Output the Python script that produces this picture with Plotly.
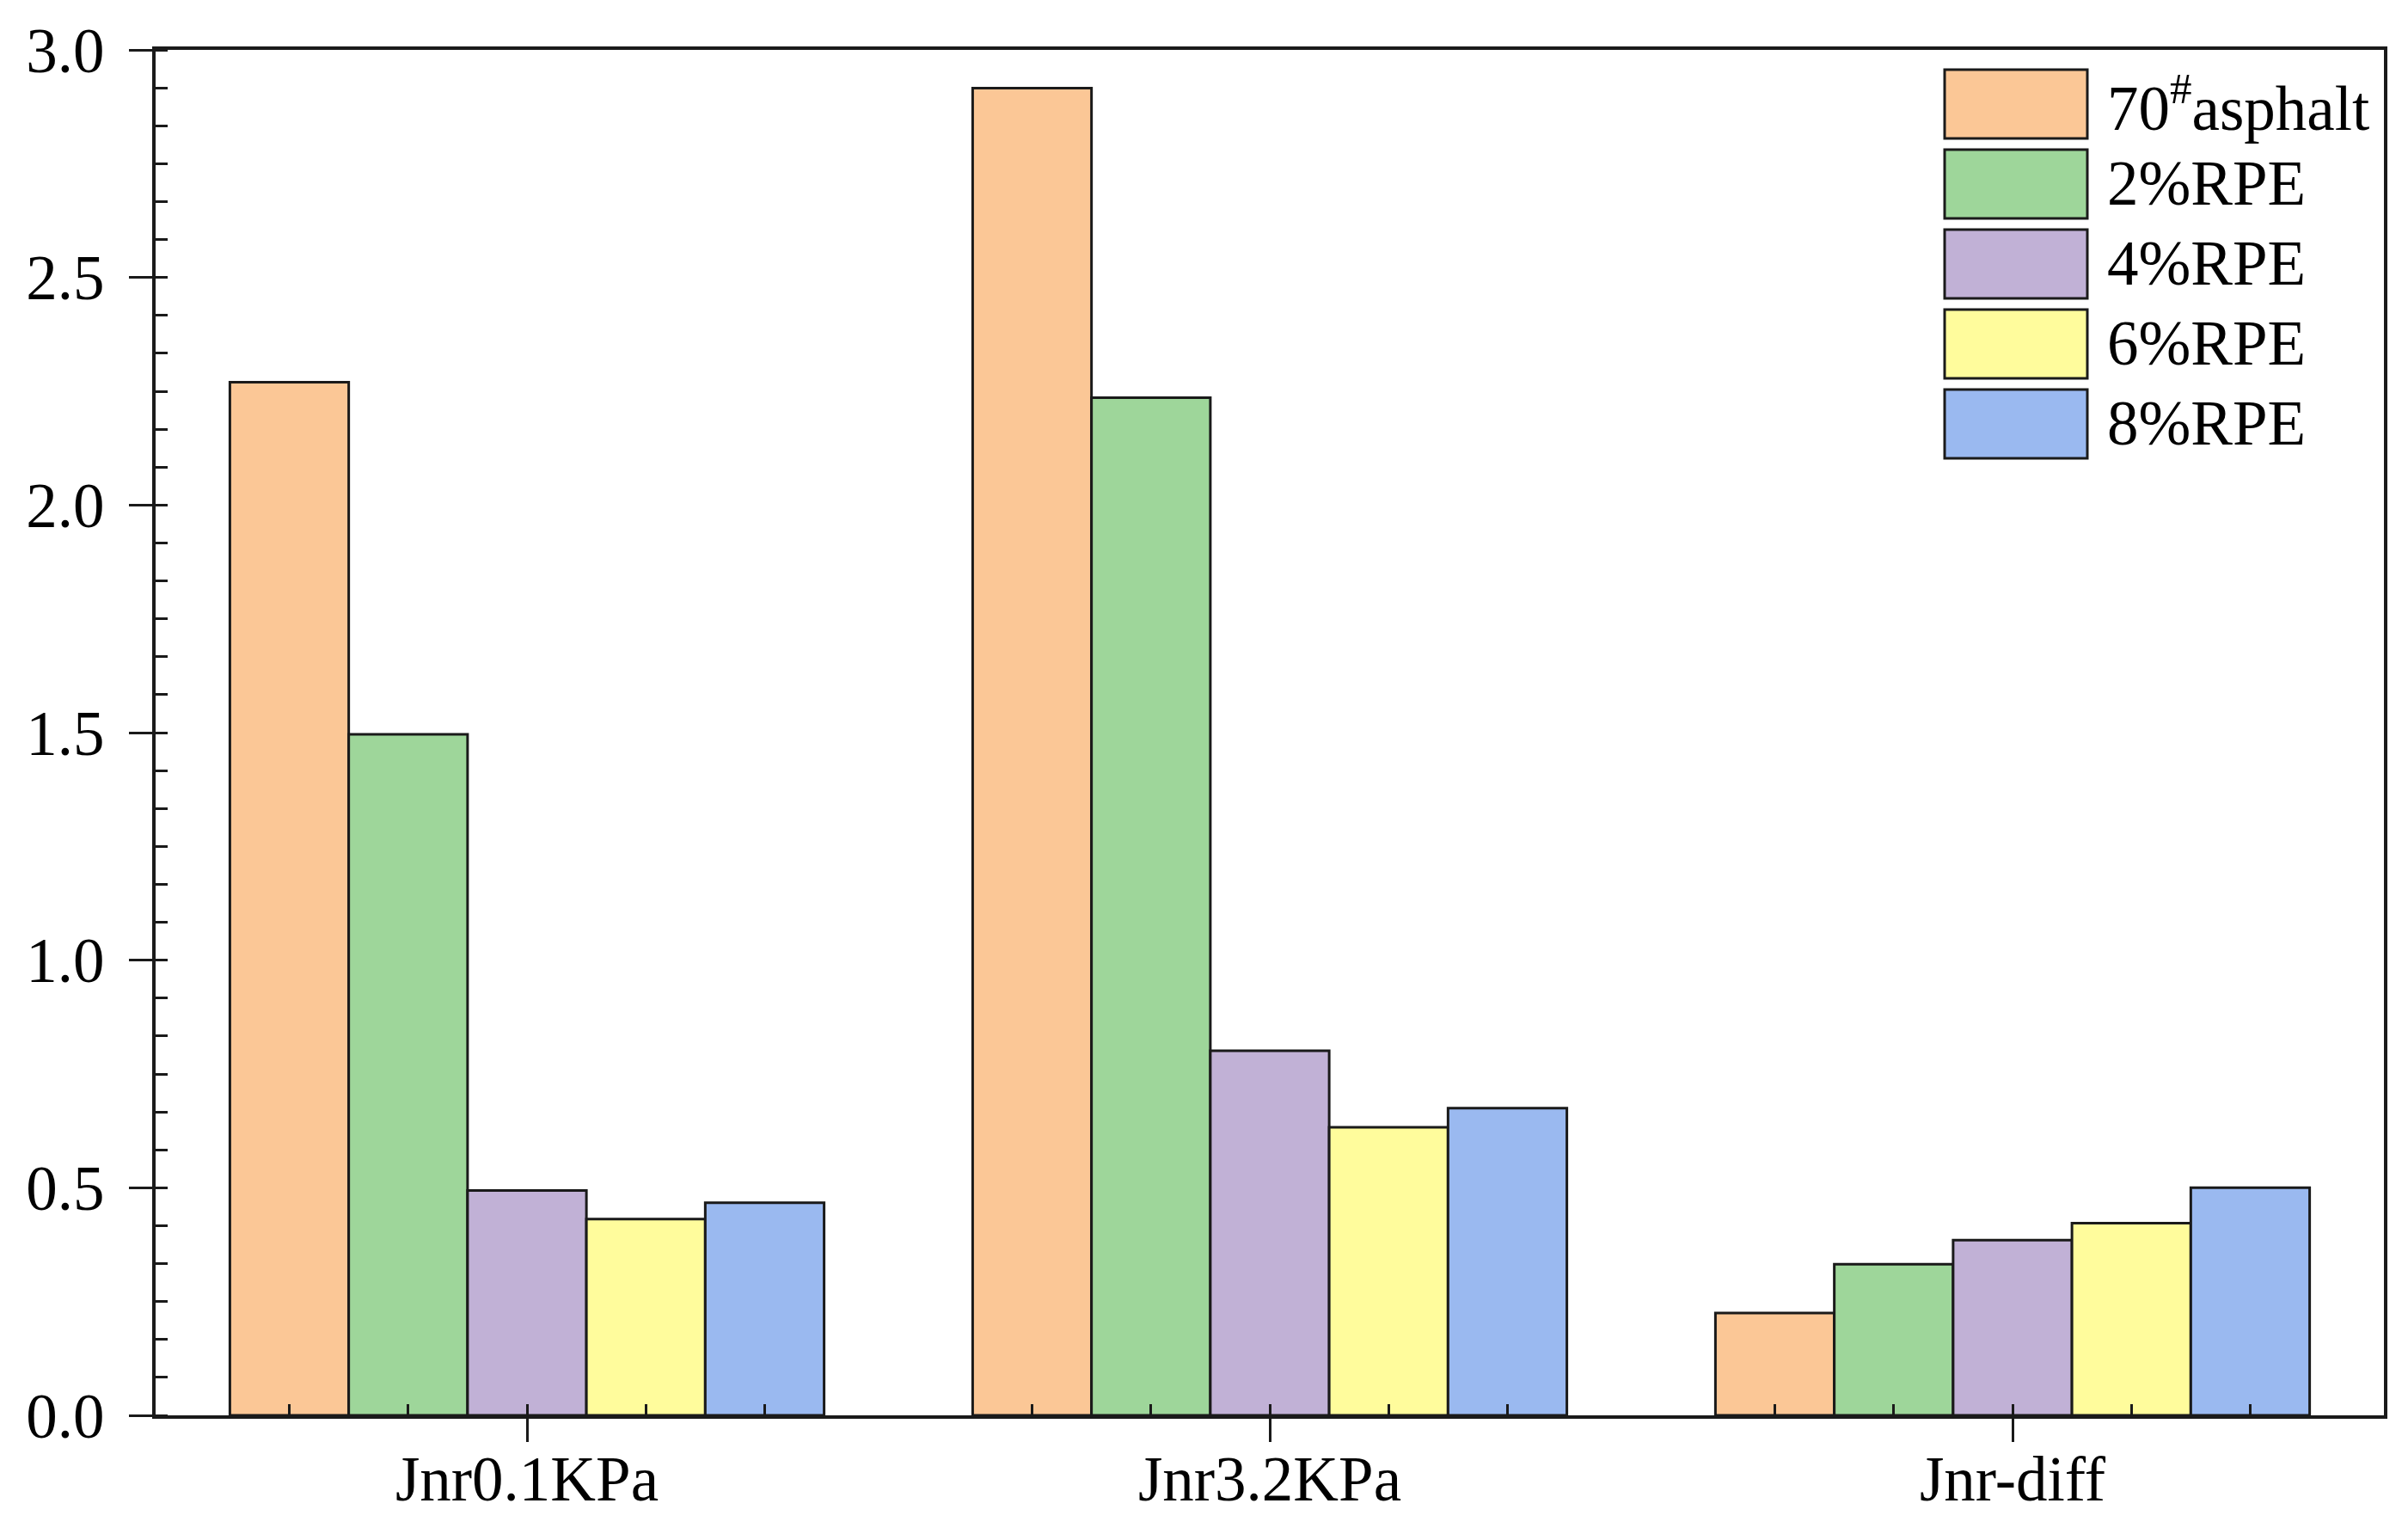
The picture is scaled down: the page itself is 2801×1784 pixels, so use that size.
import plotly.graph_objects as go

# ---------------- data ----------------
categories = ["Jnr0.1KPa", "Jnr3.2KPa", "Jnr-diff"]
series_names = ["70<sup>#</sup>asphalt", "2%RPE", "4%RPE", "6%RPE", "8%RPE"]
asphalt70 = [2.27, 2.916, 0.225]
rpe2 = [1.496, 2.236, 0.332]
rpe4 = [0.494, 0.801, 0.385]
rpe6 = [0.431, 0.633, 0.422]
rpe8 = [0.467, 0.675, 0.500]
series_values = [asphalt70, rpe2, rpe4, rpe6, rpe8]
colors = ["#FBC796", "#9ED69A", "#C1B1D6", "#FFFC9C", "#9AB9F0"]
y_ticks = [0.0, 0.5, 1.0, 1.5, 2.0, 2.5, 3.0]

# ---------------- layout constants ----------------
W, H = 2801, 1784
ML, MR, MT, MB = 173, 36, 50, 146
FONT = "Times New Roman, Liberation Serif, serif"
FS = 73
LW_AX = 4
LW_BAR = 3
BARGAP = 0.2
INK = "#1a1a1a"

xs = list(range(len(categories)))
nser = len(series_values)
bw = (1 - BARGAP) / nser

fig = go.Figure()
for name, vals, col in zip(series_names, series_values, colors):
    fig.add_trace(go.Bar(
        x=xs, y=vals, name=name,
        marker=dict(color=col, line=dict(color=INK, width=LW_BAR)),
        showlegend=False,
    ))

# minor x ticks at the bar centres
minor_x = [c + (k - (nser - 1) / 2) * bw for c in xs for k in range(nser)]

axis_common = dict(
    showline=True, linecolor=INK, linewidth=LW_AX, mirror=True,
    showgrid=False, zeroline=False,
    ticks="outside", ticklen=27, tickwidth=LW_AX - 1, tickcolor=INK,
    tickfont=dict(family=FONT, size=FS, color="black"),
)

fig.update_xaxes(
    **axis_common,
    range=[-0.5, len(categories) - 0.5],
    tickmode="array", tickvals=xs, ticktext=categories,
    ticklabelstandoff=-20,
    minor=dict(tickmode="array", tickvals=minor_x, ticks="inside",
               ticklen=13, tickwidth=LW_AX - 1, tickcolor=INK),
)
fig.update_yaxes(
    **axis_common,
    range=[0, 3.0],
    tickmode="array", tickvals=y_ticks, ticktext=[f"{v:.1f}" for v in y_ticks],
    ticklabelstandoff=14,
    minor=dict(tickmode="linear", tick0=0, dtick=0.5 / 6, ticks="inside",
               ticklen=14, tickwidth=LW_AX - 1, tickcolor=INK),
)

# ---------------- custom legend (large swatches) ----------------
pw = W - ML - MR
ph = H - MT - MB
def px_x(p):
    return (p - ML) / pw
def px_y(p):
    return (H - MB - p) / ph

box_left, box_right = 2254, 2420
box_top0, box_h, pitch = 73, 80, 93
text_left = 2441
shapes = []
annotations = []
for i, (name, col) in enumerate(zip(series_names, colors)):
    top = box_top0 + i * pitch
    shapes.append(dict(
        type="rect", xref="paper", yref="paper",
        x0=px_x(box_left), x1=px_x(box_right),
        y0=px_y(top + box_h), y1=px_y(top),
        fillcolor=col, line=dict(color=INK, width=LW_BAR), layer="above",
    ))
    annotations.append(dict(
        xref="paper", yref="paper", x=px_x(text_left), y=px_y(top + box_h / 2),
        xanchor="left", yanchor="middle", showarrow=False, text=name,
        font=dict(family=FONT, size=FS, color="black"),
    ))

fig.update_layout(
    width=W, height=H,
    margin=dict(l=ML, r=MR, t=MT, b=MB, autoexpand=False),
    barmode="group", bargap=BARGAP, bargroupgap=0,
    plot_bgcolor="white", paper_bgcolor="white",
    shapes=shapes, annotations=annotations,
    font=dict(family=FONT, size=FS, color="black"),
)

fig.write_html("out.html")
